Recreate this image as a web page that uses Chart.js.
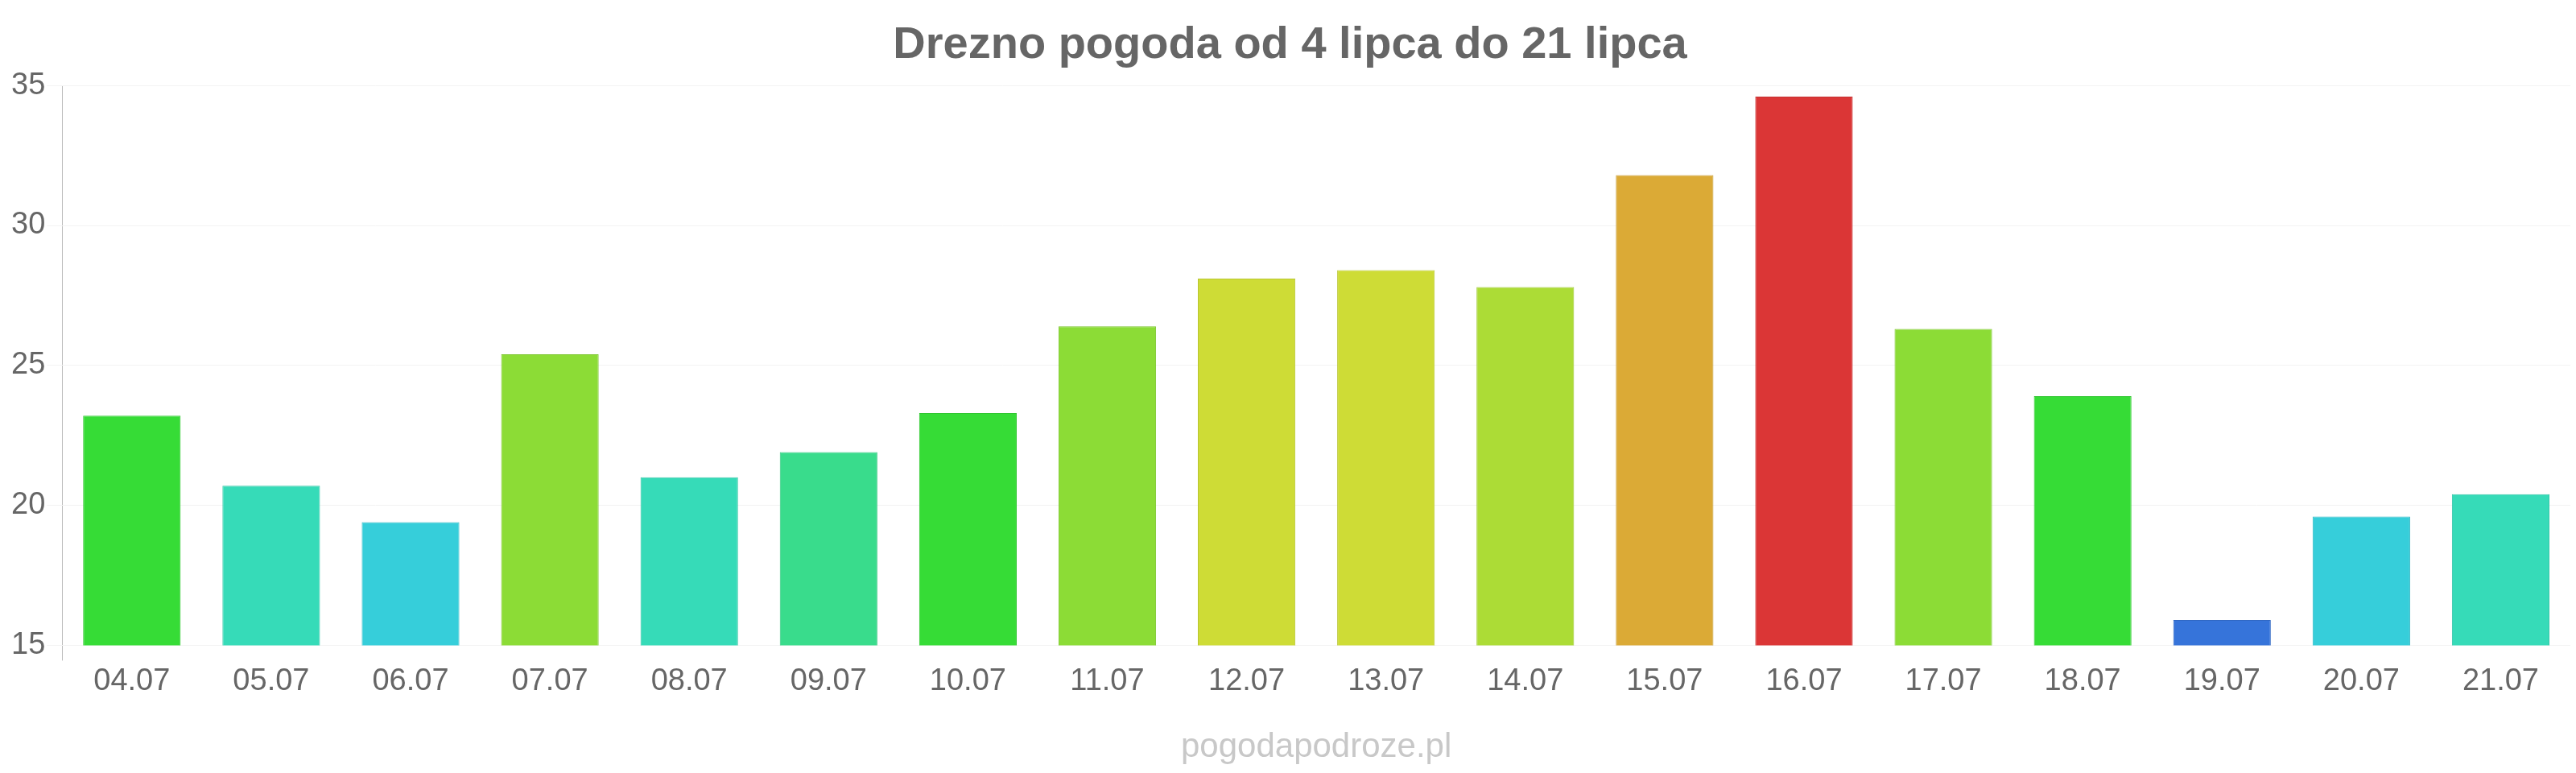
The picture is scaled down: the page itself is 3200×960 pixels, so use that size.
<!DOCTYPE html>
<html>
<head>
<meta charset="utf-8">
<title>Drezno pogoda</title>
<script src="https://cdn.jsdelivr.net/npm/chart.js@4/dist/chart.umd.min.js"></script>
<style>
	html, body { margin: 0; padding: 0; background: #fff; }
	#wrap { width: 3200px; height: 960px; }
</style>
</head>
<body>
<div id="wrap"><canvas id="weatherChart" width="3200" height="960"></canvas></div>
<script>
//daty (oś X)
var days = ["04.07","05.07","06.07","07.07","08.07","09.07","10.07","11.07","12.07","13.07","14.07","15.07","16.07","17.07","18.07","19.07","20.07","21.07"];
//temperatura maksymalna
var temps = [23.2, 20.7, 19.4, 25.4, 21.0, 21.9, 23.3, 26.4, 28.1, 28.4, 27.8, 31.8, 34.6, 26.3, 23.9, 15.9, 19.6, 20.4];
//kolory słupków
var barColors = ["#36dc36","#36dbb8","#36ceda","#8cdc36","#36dbb8","#39dc8c","#36dc36","#8cdc36","#cedc36","#cedc36","#acdc36","#dbaa36","#db3636","#8cdc36","#36dc36","#3674da","#36ceda","#36dbb8"];
var borderColors = ["#30c630","#30c4a5","#30b9c4","#7ec630","#30c4a5","#33c67e","#30c630","#7ec630","#b9c630","#b9c630","#9bc630","#c59930","#c53030","#7ec630","#30c630","#3068c4","#30b9c4","#30c4a5"];
//oś Y
var yMin = 15, yMax = 35, yStep = 5;
var titleText = "Drezno pogoda od 4 lipca do 21 lipca";
var watermark = "pogodapodroze.pl";

var fontFamily = "'Liberation Sans', Arial, sans-serif";

//napis pod wykresem
var watermarkPlugin = {
	id: "watermark",
	afterDraw: function (chart) {
		var ctx = chart.ctx;
		var area = chart.chartArea;
		ctx.save();
		ctx.font = "42px " + fontFamily;
		ctx.fillStyle = "#c8c8c8";
		ctx.textAlign = "center";
		ctx.textBaseline = "middle";
		ctx.fillText(watermark, (area.left + area.right) / 2, 928);
		ctx.restore();
	}
};

var ctx = document.getElementById("weatherChart").getContext("2d");
var myChart = new Chart(ctx, {
	type: "bar",
	data: {
		labels: days,
		datasets: [{
			data: temps,
			backgroundColor: barColors,
			borderColor: borderColors,
			borderWidth: 1,
			barPercentage: 0.7,
			categoryPercentage: 1
		}]
	},
	options: {
		responsive: false,
		animation: false,
		devicePixelRatio: 1,
		layout: { padding: { left: 12, right: 7, top: 0, bottom: 88 } },
		plugins: {
			legend: { display: false },
			tooltip: { enabled: false },
			title: {
				display: true,
				text: titleText,
				color: "#666",
				font: { family: fontFamily, size: 56, weight: "bold" },
				padding: { top: 23, bottom: 16 }
			}
		},
		scales: {
			x: {
				border: { display: false },
				grid: {
					drawOnChartArea: true,
					tickLength: 19,
					color: function (c) { return c.index === 0 ? "#bbbbbb" : "rgba(0,0,0,0)"; }
				},
				ticks: { color: "#666", padding: 3, font: { family: fontFamily, size: 38 } }
			},
			y: {
				min: yMin,
				max: yMax,
				border: { display: false },
				grid: { color: "#f3f3f3", tickLength: 19 },
				ticks: { stepSize: yStep, color: "#666", padding: 2, font: { family: fontFamily, size: 38 } }
			}
		}
	},
	plugins: [watermarkPlugin]
});
</script>
</body>
</html>
